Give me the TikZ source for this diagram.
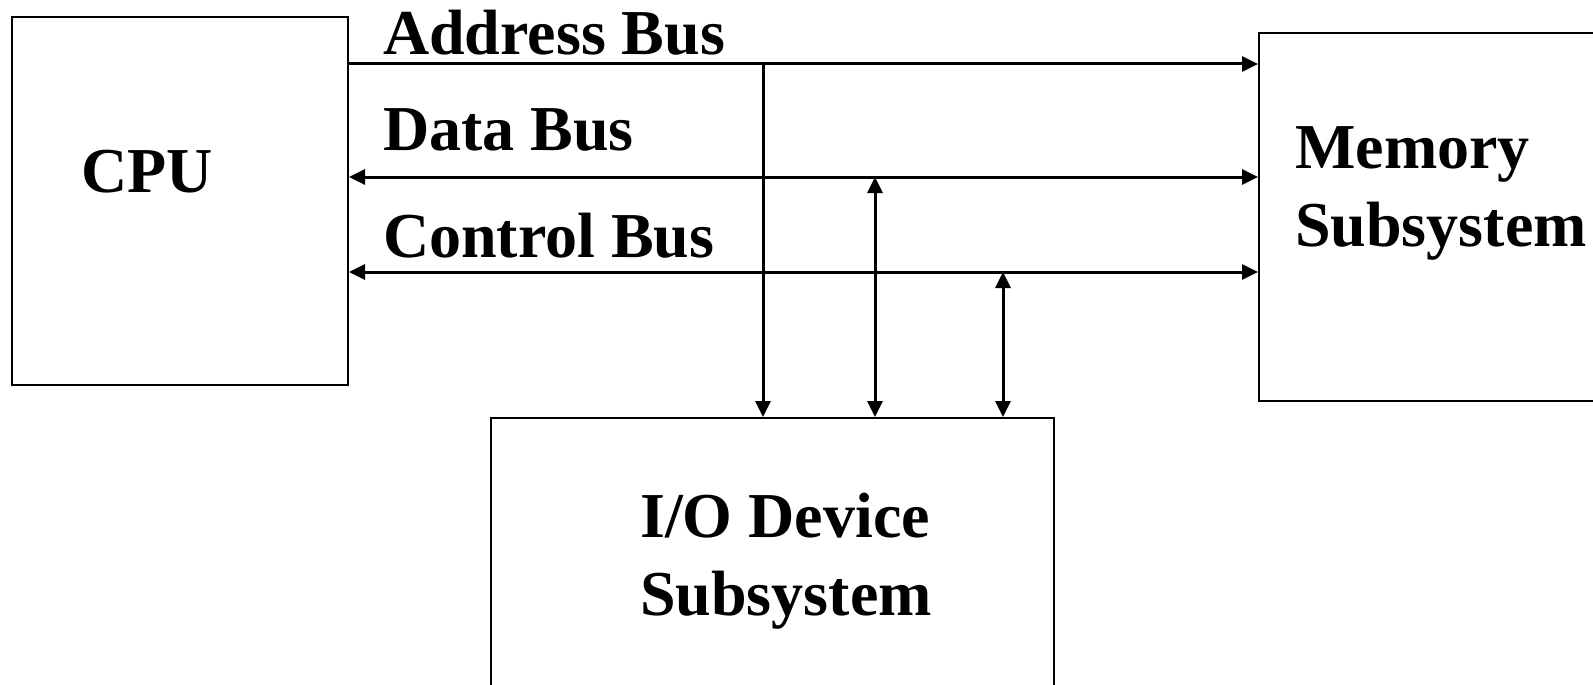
\documentclass[tikz,border=0pt]{standalone}
\usepackage{fontspec}
\setmainfont{Liberation Serif}
\usetikzlibrary{arrows.meta}

\tikzset{
  box/.style={draw, line width=2pt, anchor=north west, inner sep=0pt},
  lbl/.style={font=\bfseries\fontsize{64}{78}\selectfont, inner sep=0pt,
              anchor=base west, align=left},
  bus/.style={line width=3pt},
  >={Triangle[length=16pt,width=15pt]}
}

\begin{document}
\begin{tikzpicture}[x=1pt,y=-1pt]

 \useasboundingbox (0,0) rectangle (1593,685);

 % the three units
 \node[box, minimum width=336pt, minimum height=368pt] (cpu) at (11,16) {};
 \node[box, minimum width=400pt, minimum height=368pt] (mem) at (1258,32) {};
 \node[box, minimum width=563pt, minimum height=330pt] (io) at (490,417) {};

 % multi-line labels sit on the baseline of their last line
 \node[lbl] (cpulbl) at (81,192) {CPU};
 \node[lbl] (memlbl) at (1295,246) {Memory\\Subsystem};
 \node[lbl] (iolbl) at (640,615) {I/O Device\\Subsystem};

 % bus levels and the taps down to the I/O unit
 \path (0,64) coordinate (abus);
 \path (0,177) coordinate (dbus);
 \path (0,272) coordinate (cbus);
 \path (763,64) coordinate (atap);
 \path (875,177) coordinate (dtap);
 \path (1003,272) coordinate (ctap);

 \draw[bus, ->] (cpu.east |- abus) -- (mem.west |- abus);
 \draw[bus, <->] (cpu.east |- dbus) -- (mem.west |- dbus);
 \draw[bus, <->] (cpu.east |- cbus) -- (mem.west |- cbus);

 \draw[bus, ->] (atap) -- (atap |- io.north);
 \draw[bus, <->] (dtap) -- (dtap |- io.north);
 \draw[bus, <->] (ctap) -- (ctap |- io.north);

 \node[lbl] (alabel) at (383,55) {Address Bus};
 \node[lbl] (dlabel) at (383,150) {Data Bus};
 \node[lbl] (clabel) at (383,257) {Control Bus};

\end{tikzpicture}
\end{document}
